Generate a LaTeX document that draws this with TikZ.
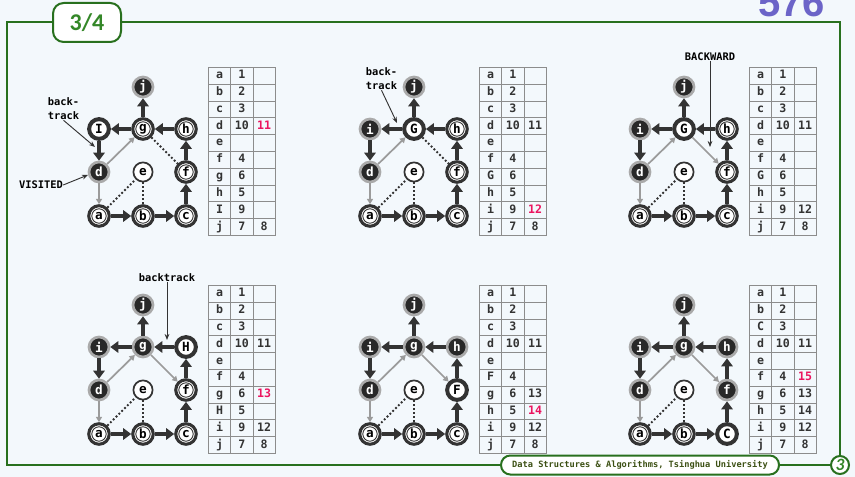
\documentclass[tikz,border=0pt]{standalone}
\usepackage{fontspec}
\usetikzlibrary{arrows.meta,matrix}
\newfontfamily\monofam{DejaVu Sans Mono}
\newfontfamily\calib{Carlito}
\newfontfamily\arialf{Liberation Sans}
\definecolor{bg}{RGB}{243,248,252}
\definecolor{frm}{RGB}{40,112,30}
\definecolor{tabtxt}{RGB}{52,135,40}
\definecolor{foot}{RGB}{60,80,20}
\definecolor{dk}{RGB}{51,51,51}
\definecolor{dfill}{RGB}{40,40,40}
\definecolor{halo}{RGB}{170,170,170}
\definecolor{gr}{RGB}{155,155,155}
\definecolor{tgrid}{RGB}{140,140,140}
\definecolor{hot}{RGB}{235,20,95}
\definecolor{num}{RGB}{108,100,200}
\tikzset{
  vbase/.style={circle, inner sep=0pt, text=black,
    font=\monofam\bfseries\fontsize{9.5}{10}\selectfont},
  disc/.style={vbase, minimum size=15.4pt, draw=dk, line width=2.3pt, fill=white,
    path picture={\draw[dk, line width=0.7pt] (path picture bounding box.center) circle[radius=5.4pt];}},
  active/.style={vbase, minimum size=14.8pt, draw=dk, line width=3pt, fill=white},
  done/.style={vbase, minimum size=15pt, draw=halo, line width=2pt, fill=dfill, text=white},
  undisc/.style={vbase, minimum size=14.4pt, draw=dk, line width=1.3pt, fill=white},
  tree/.style={draw=dk, line width=3pt, -{Triangle[length=6pt, width=8.5pt]}},
  back/.style={draw=gr, line width=1.3pt, -{Triangle[length=4pt, width=4.5pt]}},
  dotl/.style={draw=dk, line width=1.4pt, dash pattern=on 1.4pt off 1.6pt},
  lblar/.style={draw=dk, line width=0.7pt, -{Stealth[length=4.5pt, width=3.5pt]}},
  lbl/.style={font=\monofam\bfseries\fontsize{7.8}{10.5}\selectfont, text=black, inner sep=0pt, align=left},
  tbl/.style={matrix of nodes, nodes in empty cells, anchor=north west,
    inner sep=0pt, outer sep=0pt,
    column sep=-0.6pt, row sep=-0.6pt,
    nodes={draw=tgrid, line width=0.6pt, minimum width=16.7pt, minimum height=12.6pt,
      inner sep=0pt, text height=6.3pt, text depth=1.8pt, text=dk,
      font=\monofam\bfseries\fontsize{8.7}{9}\selectfont, anchor=center}},
  frame/.style={draw=frm, line width=1.5pt},
}
\newcommand\Edges[2]{%
  \draw[tree] (#1a) -- (#1b);
  \draw[tree] (#1b) -- (#1c);
  \draw[tree] (#1c) -- (#1f);
  \draw[tree] (#1f) -- (#1h);
  \draw[tree] (#1h) -- (#1g);
  \draw[tree] (#1g) -- (#1j);
  \draw[tree] (#1g) -- (#1i);
  \draw[tree] (#1i) -- (#1d);
  \draw[back] (#1d) -- (#1g);
  \draw[back] (#1d) -- (#1a);
  \draw[dotl] (#1a) -- (#1e);
  \draw[dotl] (#1e) -- (#1b);
  \draw[#2] (#1g) -- (#1f);}
\begin{document}
\begin{tikzpicture}[x=0.75pt, y=-0.75pt]
\useasboundingbox (0,0) rectangle (855,477);
\fill[bg] (0,0) rectangle (855,477);

% header / frame
\node[anchor=base, text=num, font=\arialf\bfseries\fontsize{30}{30}\selectfont, inner sep=0pt] (pnum) at (791.5,17) {576};
\node[draw=frm, line width=1.5pt, fill=white, rounded corners=8pt, minimum width=51pt, minimum height=29.25pt,
  text=tabtxt, font=\calib\bfseries\fontsize{18}{18}\selectfont] (tab) at (87,22.5) {3/4};
\node[draw=frm, line width=1.5pt, fill=white, rounded corners=7pt, minimum width=208.5pt, minimum height=14.25pt,
  inner sep=0pt, text=foot, font=\monofam\bfseries\fontsize{6.5}{7}\selectfont] (foot) at (640,465) {Data Structures \& Algorithms, Tsinghua University};
\node[circle, draw=frm, line width=1.5pt, fill=white, minimum size=13.5pt, inner sep=0pt,
  text=tabtxt, font=\calib\bfseries\itshape\fontsize{13}{13}\selectfont] (pg) at (840,465) {3};
\draw[frame] (tab.west) -| (7,465) -- (foot.west);
\draw[frame] (foot.east) -- (pg.west);
\draw[frame] (tab.east) -| (pg.north);

% ---------- panel 1 ----------
\begin{scope}
\node[done]   (p1j) at (143,87)  {j};
\node[active] (p1i) at (99,129)  {I};
\node[disc]   (p1g) at (143,129) {g};
\node[disc]   (p1h) at (186,129) {h};
\node[done]   (p1d) at (99,172)  {d};
\node[undisc] (p1e) at (143,172) {e};
\node[disc]   (p1f) at (186,172) {f};
\node[disc]   (p1a) at (99,216)  {a};
\node[disc]   (p1b) at (143,216) {b};
\node[disc]   (p1c) at (186,216) {c};
\Edges{p1}{dotl}
\matrix[tbl] (t1) at (208,67) {
a & 1 & \\
b & 2 & \\
c & 3 & \\
d & 10 & |[text=hot]| 11 \\
e & & \\
f & 4 & \\
g & 6 & \\
h & 5 & \\
I & 9 & \\
j & 7 & 8 \\
};
\node[lbl] (bt1) at (63.5,109) {back-\\track};
\coordinate (bt1tip) at (95,147);
\draw[lblar] (bt1.south) -- (bt1tip);
\node[lbl] (vis) at (41,185) {VISITED};
\draw[lblar] (vis.east) -- (p1d.195);
\end{scope}

% ---------- panel 2 ----------
\begin{scope}[shift={(271,0)}]
\node[done]   (p2j) at (143,87)  {j};
\node[done]   (p2i) at (99,129)  {i};
\node[active] (p2g) at (143,129) {G};
\node[disc]   (p2h) at (186,129) {h};
\node[done]   (p2d) at (99,172)  {d};
\node[undisc] (p2e) at (143,172) {e};
\node[disc]   (p2f) at (186,172) {f};
\node[disc]   (p2a) at (99,216)  {a};
\node[disc]   (p2b) at (143,216) {b};
\node[disc]   (p2c) at (186,216) {c};
\Edges{p2}{dotl}
\matrix[tbl] (t2) at (208,67) {
a & 1 & \\
b & 2 & \\
c & 3 & \\
d & 10 & 11 \\
e & & \\
f & 4 & \\
G & 6 & \\
h & 5 & \\
i & 9 & |[text=hot]| 12 \\
j & 7 & 8 \\
};
\node[lbl] (bt2) at (110.5,79) {back-\\track};
\coordinate (bt2tip) at (126,123);
\draw[lblar] (bt2.south) -- (bt2tip);
\end{scope}

% ---------- panel 3 ----------
\begin{scope}[shift={(541,0)}]
\node[done]   (p3j) at (143,87)  {j};
\node[done]   (p3i) at (99,129)  {i};
\node[active] (p3g) at (143,129) {G};
\node[disc]   (p3h) at (186,129) {h};
\node[done]   (p3d) at (99,172)  {d};
\node[undisc] (p3e) at (143,172) {e};
\node[disc]   (p3f) at (186,172) {f};
\node[disc]   (p3a) at (99,216)  {a};
\node[disc]   (p3b) at (143,216) {b};
\node[disc]   (p3c) at (186,216) {c};
\Edges{p3}{back}
\matrix[tbl] (t3) at (208,67) {
a & 1 & \\
b & 2 & \\
c & 3 & \\
d & 10 & 11 \\
e & & \\
f & 4 & \\
G & 6 & \\
h & 5 & \\
i & 9 & 12 \\
j & 7 & 8 \\
};
\node[lbl] (bw3) at (169,57) {BACKWARD};
\coordinate (bw3tip) at (169,147);
\draw[lblar] (bw3.south) -- (bw3tip);
\end{scope}

% ---------- panel 4 ----------
\begin{scope}[shift={(0,218)}]
\node[done]   (p4j) at (143,87)  {j};
\node[done]   (p4i) at (99,129)  {i};
\node[done]   (p4g) at (143,129) {g};
\node[active] (p4h) at (186,129) {H};
\node[done]   (p4d) at (99,172)  {d};
\node[undisc] (p4e) at (143,172) {e};
\node[disc]   (p4f) at (186,172) {f};
\node[disc]   (p4a) at (99,216)  {a};
\node[disc]   (p4b) at (143,216) {b};
\node[disc]   (p4c) at (186,216) {c};
\Edges{p4}{back}
\matrix[tbl] (t4) at (208,67) {
a & 1 & \\
b & 2 & \\
c & 3 & \\
d & 10 & 11 \\
e & & \\
f & 4 & \\
g & 6 & |[text=hot]| 13 \\
H & 5 & \\
i & 9 & 12 \\
j & 7 & 8 \\
};
\node[lbl] (bt4) at (167,60) {backtrack};
\coordinate (bt4tip) at (167,122);
\draw[lblar] (bt4.south) -- (bt4tip);
\end{scope}

% ---------- panel 5 ----------
\begin{scope}[shift={(271,218)}]
\node[done]   (p5j) at (143,87)  {j};
\node[done]   (p5i) at (99,129)  {i};
\node[done]   (p5g) at (143,129) {g};
\node[done]   (p5h) at (186,129) {h};
\node[done]   (p5d) at (99,172)  {d};
\node[undisc] (p5e) at (143,172) {e};
\node[active] (p5f) at (186,172) {F};
\node[disc]   (p5a) at (99,216)  {a};
\node[disc]   (p5b) at (143,216) {b};
\node[disc]   (p5c) at (186,216) {c};
\Edges{p5}{back}
\matrix[tbl] (t5) at (208,67) {
a & 1 & \\
b & 2 & \\
c & 3 & \\
d & 10 & 11 \\
e & & \\
F & 4 & \\
g & 6 & 13 \\
h & 5 & |[text=hot]| 14 \\
i & 9 & 12 \\
j & 7 & 8 \\
};
\end{scope}

% ---------- panel 6 ----------
\begin{scope}[shift={(541,218)}]
\node[done]   (p6j) at (143,87)  {j};
\node[done]   (p6i) at (99,129)  {i};
\node[done]   (p6g) at (143,129) {g};
\node[done]   (p6h) at (186,129) {h};
\node[done]   (p6d) at (99,172)  {d};
\node[undisc] (p6e) at (143,172) {e};
\node[done]   (p6f) at (186,172) {f};
\node[disc]   (p6a) at (99,216)  {a};
\node[disc]   (p6b) at (143,216) {b};
\node[active] (p6c) at (186,216) {C};
\Edges{p6}{back}
\matrix[tbl] (t6) at (208,67) {
a & 1 & \\
b & 2 & \\
C & 3 & \\
d & 10 & 11 \\
e & & \\
f & 4 & |[text=hot]| 15 \\
g & 6 & 13 \\
h & 5 & 14 \\
i & 9 & 12 \\
j & 7 & 8 \\
};
\end{scope}
\end{tikzpicture}
\end{document}
